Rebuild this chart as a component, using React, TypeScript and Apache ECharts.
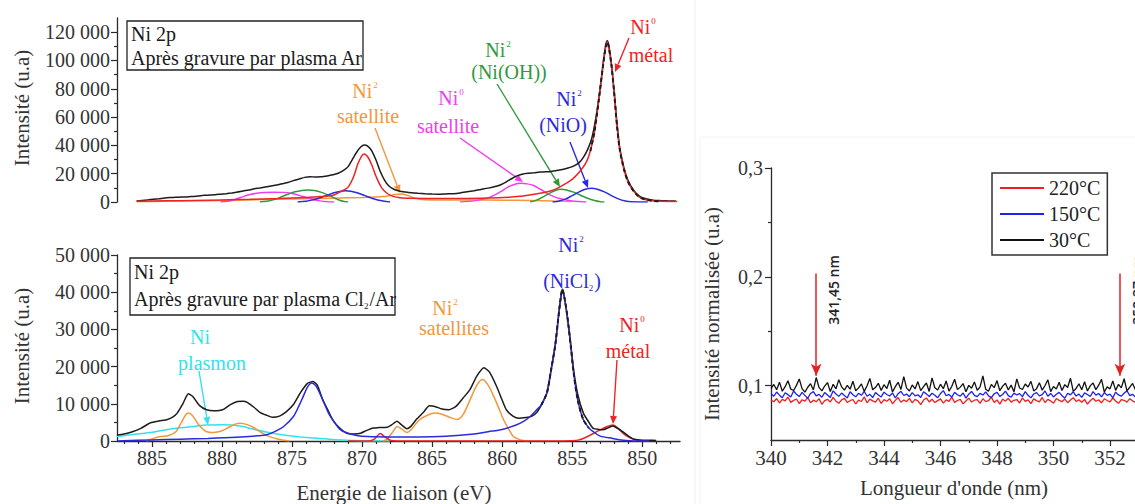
import React, { useEffect, useRef } from 'react';
import * as echarts from 'echarts';

const SERIF = "'Liberation Serif', 'Times New Roman', serif";
const SANS = "'Open Sans', 'Liberation Sans', sans-serif";

// ---------- XPS axes ----------
const E_MIN = 847.3;
const E_MAX = 887.5;
const energyTicks = [885, 880, 875, 870, 865, 860, 855, 850];
const energyMinor = [887, 886, 884, 883, 882, 881, 879, 878, 877, 876, 874, 873, 872, 871, 869, 868, 867, 866, 864, 863, 862, 861, 859, 858, 857, 856, 854, 853, 852, 851, 849, 848];
const topYTicks = [0, 20000, 40000, 60000, 80000, 100000, 120000];
const topYMinor = [10000, 30000, 50000, 70000, 90000, 110000];

// ---------- Top panel (Ar plasma) ----------
const topBlack = [[886.1,700],[885.7,1100],[885.3,1500],[884.9,1900],[884.5,2300],[884.1,2800],[883.7,3100],[883.3,3300],[882.9,3500],[882.5,3600],[882.1,3900],[881.7,4200],[881.3,4700],[880.9,4900],[880.5,5100],[880.1,5500],[879.7,5900],[879.3,6400],[878.9,7000],[878.5,7800],[878.1,8400],[877.7,9300],[877.3,9900],[876.9,10600],[876.5,11300],[876.1,12000],[875.7,12900],[875.3,13800],[874.9,15100],[874.5,16200],[874.1,17400],[873.7,17900],[873.3,17600],[872.9,17900],[872.5,18300],[872.1,19200],[871.7,20300],[871.3,22500],[871,25000],[870.7,30000],[870.4,35000],[870.1,38800],[869.85,40300],[869.6,39500],[869.3,36000],[869,29500],[868.7,21500],[868.4,15500],[868.1,11500],[867.7,8800],[867.3,7600],[866.9,7000],[866.5,6500],[866,6100],[865.5,5800],[865,5600],[864.5,5500],[864,5700],[863.5,5900],[863,6400],[862.5,7200],[862,8000],[861.5,8900],[861,9800],[860.5,10900],[860.1,12200],[859.7,14200],[859.3,16600],[858.9,18600],[858.5,19800],[858.1,20300],[857.7,20700],[857.3,21200],[856.9,21300],[856.5,21600],[856.1,22200],[855.7,23000],[855.3,24000],[854.9,25300],[854.5,27800],[854.2,31500],[853.9,37000],[853.6,45000],[853.3,60000],[853,80000],[852.8,97000],[852.6,111000],[852.5,114000],[852.4,111500],[852.2,98000],[852,78000],[851.8,55500],[851.6,38000],[851.3,24000],[851,15000],[850.6,8200],[850.2,4200],[849.8,2500],[849.3,1500],[848.8,1000],[848.2,800],[847.6,700]];
const topRed = [[886.1,500],[884,800],[882,1100],[880,1500],[878,1900],[876,2400],[874,3200],[873,3800],[872,5000],[871.4,8000],[871,10500],[870.6,18000],[870.3,27000],[870,33000],[869.85,34000],[869.6,32000],[869.3,26000],[869,18000],[868.6,10000],[868.2,6000],[867.8,4000],[867.3,3000],[866.5,2600],[865,2500],[863,2500],[861,2800],[859.5,3400],[858.5,4200],[857.5,5800],[856.5,8000],[856,10000],[855.5,12800],[855,16000],[854.5,21000],[854,28000],[853.7,36000],[853.4,50000],[853.1,72000],[852.8,96000],[852.6,110000],[852.5,113000],[852.4,110000],[852.2,97000],[852,77000],[851.8,54000],[851.6,37000],[851.3,23000],[851,14000],[850.6,7500],[850.2,3500],[849.8,1800],[849.3,900],[848.8,500],[847.5,400]];
const topFit = [[853.7,36000],[853.4,50000],[853.1,72000],[852.8,96000],[852.6,110000],[852.5,113000],[852.4,110000],[852.2,97000],[852,77000],[851.8,54000],[851.6,37000],[851.3,23000],[851,14000],[850.6,7500],[850.2,3500],[849.8,1800],[849.3,900],[848.8,500]];
const topBlueHigh = [[874.6,0],[874,500],[873.5,1500],[873,3000],[872.5,4800],[872,6500],[871.5,7600],[871.2,7900],[870.8,7600],[870.3,6300],[869.8,4500],[869.3,2700],[868.8,1200],[868.3,300],[868,0]];
const topBlueLow = [[856.4,0],[856,600],[855.5,2000],[855,4500],[854.5,7200],[854,9200],[853.6,9700],[853.2,9000],[852.7,7200],[852.2,4500],[851.7,2200],[851.2,700],[850.8,100],[850.3,0],[849.6,0]];
const topGreenHigh = [[877.3,0],[876.8,500],[876.3,1700],[875.8,3500],[875.3,5500],[874.8,7200],[874.3,8200],[873.9,8500],[873.4,8100],[872.9,6800],[872.4,4800],[871.9,2500],[871.6,1200],[871.3,400],[871,0]];
const topGreenLow = [[858,0],[857.5,1500],[857,4000],[856.5,6800],[856,8800],[855.8,9000],[855.4,8500],[854.9,7000],[854.4,4800],[853.9,2600],[853.4,1000],[853,200],[852.7,0]];
const topMagentaHigh = [[880.1,0],[879.5,700],[879,2000],[878.5,3800],[878,5300],[877.5,6200],[877,6700],[876.3,6900],[875.6,6800],[875,6000],[874.5,4700],[874,3200],[873.5,1800],[873,800],[872.5,200],[872,0]];
const topMagentaLow = [[863,0],[862,800],[861,2900],[860.1,7300],[859.6,10500],[859.2,12200],[858.7,13200],[858.2,12800],[857.8,11800],[857.3,9200],[856.8,6100],[856.3,3800],[855.9,2400],[855,700],[854,0]];
const topOrange = [[886.1,200],[884,500],[882,800],[880,1100],[878,1500],[876,1900],[874,2300],[872,2700],[870,3200],[868.5,3800],[867.8,5000],[867.2,5600],[866.7,4500],[866.2,2600],[865.5,1600],[864,1400],[862,1400],[860,1300],[858,1000],[856,600],[855,300]];

// ---------- Bottom panel (Cl2/Ar plasma) ----------
const botBlack = [[887.5,1600],[887,1900],[886.4,2500],[885.8,3400],[885.1,4900],[884.5,5400],[883.9,5800],[883.5,6500],[883.2,7500],[882.8,10000],[882.4,12700],[882.1,12000],[881.6,9500],[881.1,8400],[880.6,8100],[880.2,8200],[879.9,8500],[879.4,9800],[878.9,10600],[878.5,10700],[878.2,10400],[877.7,9000],[877.3,7700],[876.8,6900],[876.4,6400],[875.9,6700],[875.4,7900],[874.9,9800],[874.4,13000],[873.9,15500],[873.5,16000],[873.2,15000],[872.8,11000],[872.4,8000],[872.1,5700],[871.6,3500],[871.1,2100],[870.6,1900],[870.1,2100],[869.7,2800],[869.2,3500],[868.8,3600],[868.2,3700],[867.9,4300],[867.5,5300],[867.2,4400],[866.8,3300],[866.5,4000],[866.1,5900],[865.6,7800],[865.2,9500],[864.8,9300],[864.3,8600],[863.8,8400],[863.3,9300],[862.8,11500],[862.3,13800],[861.8,17500],[861.3,19700],[860.9,18500],[860.4,14700],[860,11000],[859.7,8400],[859.2,6600],[858.8,6100],[858.3,6300],[857.9,6600],[857.5,7800],[857.2,9700],[856.8,13000],[856.5,19200],[856.2,26000],[856,32700],[855.85,37500],[855.7,40800],[855.55,38500],[855.35,33600],[855.1,26000],[854.9,19200],[854.6,12500],[854.2,7500],[853.8,5000],[853.5,3400],[853.1,3100],[852.8,3000],[852.4,3600],[852.1,4000],[851.8,3500],[851.4,2500],[851,1400],[850.6,500],[850.2,300],[849.5,200],[849,150]];
const botBlue = [[887.5,0],[885,300],[883,500],[881,700],[879,1000],[877.5,1400],[876.8,1700],[876.2,2600],[875.6,3900],[874.9,6600],[874.5,9500],[874.2,12000],[873.9,14500],[873.6,15600],[873.3,14800],[872.8,11000],[872.4,7500],[872.1,5700],[871.6,3200],[871.1,2200],[870.4,1500],[869.6,1200],[868,1100],[866,1100],[864,1300],[862,1900],[861,2500],[860,3100],[859,4300],[858.5,5200],[858,6600],[857.5,8500],[857.2,9700],[856.8,13000],[856.5,19200],[856.2,26000],[856,32700],[855.85,37500],[855.7,40800],[855.55,38500],[855.35,33600],[855.1,25500],[854.9,18500],[854.6,11000],[854.2,5700],[853.8,3500],[853.5,2500],[853,1300],[852.1,700],[851.5,300],[850.4,0],[849.5,0]];
const botFit = [[857.2,9700],[856.8,13000],[856.5,19200],[856.2,26000],[856,32700],[855.85,37500],[855.7,40800],[855.55,38500],[855.35,33600],[855.1,25500],[854.9,18500],[854.6,11000],[854.2,5700],[853.8,3500]];
const botOrangeHigh = [[885.4,0],[884.9,700],[884.4,1200],[883.8,1500],[883.3,2500],[882.9,5000],[882.6,7000],[882.4,7500],[882.1,6800],[881.7,4500],[881.1,2500],[880.6,2300],[880.1,2600],[879.5,3700],[879,4600],[878.7,4800],[878.2,4400],[877.7,3500],[877.3,2500],[876.7,1300],[876.1,600],[875.6,200],[875.2,0]];
const botOrangeLow = [[868.5,0],[868.2,600],[867.8,2500],[867.5,3900],[867.2,3300],[866.8,2300],[866.4,3500],[865.9,5700],[865.3,7000],[864.8,7500],[864.3,7200],[863.7,6300],[863.2,5800],[862.8,7000],[862.3,11000],[861.8,15000],[861.4,16500],[861,15000],[860.6,12000],[860.2,8500],[859.9,5700],[859.5,3000],[859.2,1200],[858.7,300],[858.2,0]];
const botCyan = [[887.5,1200],[886.5,1700],[885.1,2300],[884,3000],[882.8,3600],[881.1,4300],[880,4400],[879.3,4300],[878.5,3900],[877.8,3200],[876.4,2100],[875.2,1400],[874.4,1100],[873,700],[872.1,400],[870.5,150],[869.6,0],[868,0]];
const botRed = [[871,0],[869.5,0],[869.1,600],[868.7,2000],[868.4,1200],[868,200],[867.5,0],[858,0],[855,100],[854.5,300],[853.9,1200],[853.4,2200],[853,3000],[852.5,3900],[852.1,4300],[851.8,3700],[851.4,2200],[851,1100],[850.6,450],[850,100],[849.5,0]];

// ---------- OES panel ----------
const oesStart = 340;
const oesStep = 0.1;
const oesXTicks = [340, 342, 344, 346, 348, 350, 352];
const oesXMinor = [341, 343, 345, 347, 349, 351];
const oesYTicks = [0.1, 0.2, 0.3];
const oesYMinor = [0.15, 0.25];
// intensities x 1e-4
const oes30 = [975,1010,962,1032,948,990,1045,968,955,1002,1061,972,940,985,1018,960,1074,983,951,996,1028,945,1012,970,1055,988,958,1003,967,1040,952,979,1016,947,998,1066,961,984,1021,956,1008,973,1049,942,990,1030,965,1083,977,950,1006,969,1037,954,991,1024,946,1071,980,959,1013,971,1043,949,993,1058,963,986,1019,944,1002,976,1034,957,989,1090,966,948,1011,981,1046,953,995,1022,960,1005,943,1062,978,964,1015,987,1039,951,972,1027,958,1001,1053,945,992,969,1031,955,1009,982,1068,947,974,1017,961,1036,950,997,1025,963,1004,1057,941,988,970,1042,956,1012,979,1063,952,985,1020,962,1001];
const oes150 = [925,903,941,912,888,934,917,896,950,921,899,938,910,884,928,945,905,919,893,936,914,890,952,923,901,931,908,887,943,916,897,929,911,948,902,920,889,937,913,895,940,918,904,933,886,926,947,909,922,898,935,906,915,891,944,924,900,930,912,889,927,954,907,919,894,939,916,903,932,885,921,946,910,898,929,913,942,905,890,925,937,901,918,949,908,893,931,914,926,899,944,911,887,923,935,906,917,951,902,928,896,920,938,909,884,930,915,943,904,922,892,933,918,900,945,912,927,897,936,910,921,888,940,914,903,929,953,908,919,895,932];
const oes220 = [868,852,881,840,873,859,895,846,864,877,835,870,858,889,843,866,851,880,828,862,874,849,891,857,838,869,883,845,861,872,831,866,854,897,842,876,860,848,884,836,871,856,879,833,864,890,847,868,853,882,841,873,859,826,867,886,850,875,844,862,878,839,869,855,893,846,863,874,832,858,885,849,866,871,837,879,853,861,894,844,868,830,876,857,883,848,865,872,840,887,855,869,834,878,862,850,891,845,873,859,838,881,864,852,876,843,867,889,854,870,847,873,829,861,884,856,868,842,879,863,851,886,858,837,872,865,848,880,860,845,874];
const oesArrows = [
  { wl: 341.6, top: 0.203, tip: 0.109, text: '341,45 nm' },
  { wl: 352.35, top: 0.203, tip: 0.109, text: '352,37 nm' },
];

const C = {
  black: '#1c1c1c',
  red: '#ee2424',
  blue: '#2a2ade',
  green: '#2f9a3c',
  magenta: '#f23cf0',
  orange: '#f3973a',
  cyan: '#33e2ea',
  axis: '#2a2a2a',
};

function toPairs(vals: number[]) {
  return vals.map((v, i) => [+(oesStart + i * oesStep).toFixed(2), v / 10000]);
}

function kFmt(v: number) {
  return v === 0 ? '0' : `${Math.round(v / 1000)} 000`;
}

function arrow(x1: number, y1: number, x2: number, y2: number, color: string) {
  const dx = x2 - x1, dy = y2 - y1;
  const L = Math.hypot(dx, dy);
  const ux = dx / L, uy = dy / L;
  const hl = 8, hw = 3.5;
  const bx = x2 - ux * hl, by = y2 - uy * hl;
  return [
    { type: 'line', silent: true, shape: { x1, y1, x2: bx, y2: by }, style: { stroke: color, lineWidth: 1.4 } },
    { type: 'polygon', silent: true, shape: { points: [[x2, y2], [bx - uy * hw, by + ux * hw], [bx + uy * hw, by - ux * hw]] }, style: { fill: color } },
  ];
}

function txt(x: number, y: number, text: string, color: string, size = 20, align = 'center', extra: any = {}) {
  return {
    type: 'text', silent: true, x, y, ...extra,
    style: { text, fill: color, font: `${size}px ${SERIF}`, align, textAlign: align, verticalAlign: 'middle', textVerticalAlign: 'middle' },
  };
}

function rich(x: number, y: number, text: string, color: string, align = 'center') {
  return {
    type: 'text', silent: true, x, y,
    style: {
      text, fill: color, align, textAlign: align, verticalAlign: 'middle', textVerticalAlign: 'middle',
      font: `20px ${SERIF}`,
      rich: {
        a: { fontSize: 20, fontFamily: SERIF, fill: color, lineHeight: 22 },
        s: { fontSize: 9, fontFamily: SERIF, fill: color, lineHeight: 9, verticalAlign: 'top', padding: [0, 0, 0, 1] },
        b: { fontSize: 9, fontFamily: SERIF, fill: color, lineHeight: 9, verticalAlign: 'bottom', padding: [0, 1, 0, 0] },
      },
    },
  };
}

function line(name: string, data: any[], color: string, xi: number, yi: number, extra: any = {}) {
  return {
    type: 'line', name, data, xAxisIndex: xi, yAxisIndex: yi, symbol: 'none', showSymbol: false,
    smooth: 0.3, silent: true, color,
    lineStyle: { color, width: 1.5 }, itemStyle: { color },
    ...extra,
  };
}

const axisLine = { show: true, onZero: false, lineStyle: { color: C.axis, width: 1.3 } };
const tickStyle = { color: C.axis, width: 1.2 };
const labelStyle = { color: '#333', fontFamily: SERIF, fontSize: 20 };

export default function App() {
  const ref = useRef<HTMLDivElement>(null);
  useEffect(() => {
    if (!ref.current) return;
    const chart = echarts.init(ref.current, undefined, { renderer: 'svg' });
    const graphic: any[] = [
      // faint frame lines of right figure
      { type: 'line', silent: true, shape: { x1: 695, y1: 0, x2: 695, y2: 504 }, style: { stroke: '#efefef', lineWidth: 1 } },
      { type: 'line', silent: true, shape: { x1: 700, y1: 137, x2: 1135, y2: 137 }, style: { stroke: '#f3f3f3', lineWidth: 1 } },
      { type: 'line', silent: true, shape: { x1: 700, y1: 137, x2: 700, y2: 504 }, style: { stroke: '#f3f3f3', lineWidth: 1 } },
      // boxes
      { type: 'rect', silent: true, shape: { x: 127, y: 21, width: 236, height: 49 }, style: { fill: '#fff', stroke: '#222', lineWidth: 1.3 } },
      txt(131, 34, 'Ni 2p', '#1a1a1a', 20, 'left'),
      txt(131, 58, 'Après gravure par plasma Ar', '#1a1a1a', 20, 'left'),
      { type: 'rect', silent: true, shape: { x: 130, y: 258, width: 265, height: 57 }, style: { fill: '#fff', stroke: '#222', lineWidth: 1.3 } },
      txt(134, 272, 'Ni 2p', '#1a1a1a', 20, 'left'),
      rich(134, 299, '{a|Après gravure par plasma Cl}{b|2}{a|/Ar}', '#1a1a1a', 'left'),
      // axis titles
      txt(22, 108, 'Intensité (u.a)', '#333', 21, 'center', { rotation: Math.PI / 2 }),
      txt(22, 346, 'Intensité (u.a)', '#333', 21, 'center', { rotation: Math.PI / 2 }),
      txt(394, 493, 'Energie de liaison (eV)', '#333', 21),
      txt(712, 314, 'Intensité normalisée (u.a)', '#333', 21, 'center', { rotation: Math.PI / 2 }),
      txt(954, 488, "Longueur d'onde (nm)", '#333', 21),
      // top annotations
      rich(365, 91, '{a|Ni}{s|2}', C.orange),
      txt(368, 116, 'satellite', C.orange),
      ...arrow(375, 128, 400, 193, C.orange),
      rich(451, 98, '{a|Ni}{s|0}', C.magenta),
      txt(448, 126, 'satellite', C.magenta),
      ...arrow(460, 138, 523, 182, C.magenta),
      rich(498, 50, '{a|Ni}{s|2}', C.green),
      txt(509, 72, '(Ni(OH))', C.green),
      ...arrow(497, 84, 560, 187, C.green),
      rich(569, 99, '{a|Ni}{s|2}', C.blue),
      txt(563, 125, '(NiO)', C.blue),
      ...arrow(570, 142, 588, 188, C.blue),
      rich(643, 27, '{a|Ni}{s|0}', C.red),
      txt(651, 55, 'métal', C.red),
      ...arrow(629, 38, 615, 72, C.red),
      // bottom annotations
      txt(200, 337, 'Ni', C.cyan),
      txt(212, 363, 'plasmon', C.cyan),
      ...arrow(199, 371, 208, 425, C.cyan),
      rich(445, 308, '{a|Ni}{s|2}', C.orange),
      txt(454, 328, 'satellites', C.orange),
      rich(571, 245, '{a|Ni}{s|2}', C.blue),
      rich(572, 281, '{a|(NiCl}{b|2}{a|)}', C.blue),
      rich(632, 325, '{a|Ni}{s|0}', C.red),
      txt(628, 351, 'métal', C.red),
      ...arrow(617, 360, 613, 424, C.red),
      // OES arrow labels
      ...oesArrows.map((a, i) => ({
        type: 'text', silent: true, x: i === 0 ? 833 : 1137, y: 290, rotation: Math.PI / 2,
        style: { text: a.text, fill: '#222', font: `600 14px ${SANS}`, align: 'center', textAlign: 'center', verticalAlign: 'middle', textVerticalAlign: 'middle' },
      })),
    ];

    const option: any = {
      animation: false,
      backgroundColor: '#ffffff',
      textStyle: { fontFamily: SERIF },
      grid: [
        { left: 117, top: 18, width: 563, height: 184, outerBoundsMode: 'none', containLabel: false },
        { left: 117, top: 255, width: 563, height: 186, outerBoundsMode: 'none', containLabel: false },
        { left: 771, top: 168, width: 367.25, height: 272, outerBoundsMode: 'none', containLabel: false },
      ],
      legend: {
        data: ['220°C', '150°C', '30°C'],
        orient: 'vertical', left: 992, top: 173,
        icon: 'rect', itemWidth: 44, itemHeight: 2, itemGap: 6,
        padding: [5, 7, 5, 8],
        borderColor: '#333', borderWidth: 1.5, backgroundColor: '#fff',
        textStyle: { fontFamily: SERIF, fontSize: 20, color: '#222' },
        selectedMode: false,
      },
      xAxis: [
        { gridIndex: 0, type: 'value', min: E_MIN, max: E_MAX, inverse: true, show: false },
        {
          gridIndex: 1, type: 'value', min: E_MIN, max: E_MAX, inverse: true, position: 'bottom',
          axisLine, splitLine: { show: false },
          axisTick: { show: true, length: 6, customValues: energyTicks, lineStyle: tickStyle },
          axisLabel: { ...labelStyle, margin: 7, customValues: energyTicks, formatter: (v: number) => String(v) },
        },
        {
          gridIndex: 1, type: 'value', min: E_MIN, max: E_MAX, inverse: true, position: 'bottom',
          axisLine: { show: false, onZero: false }, splitLine: { show: false },
          axisTick: { show: true, length: 3, customValues: energyMinor, lineStyle: tickStyle },
          axisLabel: { show: false },
        },
        {
          gridIndex: 2, type: 'value', min: 340, max: 353, position: 'bottom',
          axisLine, splitLine: { show: false },
          axisTick: { show: true, length: 6, customValues: oesXTicks, lineStyle: tickStyle },
          axisLabel: { ...labelStyle, fontSize: 21, margin: 7, customValues: oesXTicks, formatter: (v: number) => String(v) },
        },
        {
          gridIndex: 2, type: 'value', min: 340, max: 353, position: 'bottom',
          axisLine: { show: false, onZero: false }, splitLine: { show: false },
          axisTick: { show: true, length: 3, customValues: oesXMinor, lineStyle: tickStyle },
          axisLabel: { show: false },
        },
      ],
      yAxis: [
        {
          gridIndex: 0, type: 'value', min: 0, max: 130000, position: 'left',
          axisLine, splitLine: { show: false },
          axisTick: { show: true, length: 6, customValues: topYTicks, lineStyle: tickStyle },
          axisLabel: { ...labelStyle, margin: 7, customValues: topYTicks, formatter: kFmt },
        },
        {
          gridIndex: 0, type: 'value', min: 0, max: 130000, position: 'left',
          axisLine: { show: false, onZero: false }, splitLine: { show: false },
          axisTick: { show: true, length: 3, customValues: topYMinor, lineStyle: tickStyle },
          axisLabel: { show: false },
        },
        {
          gridIndex: 1, type: 'value', min: 0, max: 50000, interval: 10000, position: 'left',
          axisLine, splitLine: { show: false },
          axisTick: { show: true, length: 6, lineStyle: tickStyle },
          minorTick: { show: true, splitNumber: 2, length: 3, lineStyle: tickStyle },
          axisLabel: { ...labelStyle, margin: 7, formatter: kFmt },
        },
        {
          gridIndex: 2, type: 'value', min: 0.05, max: 0.3, position: 'left',
          axisLine, splitLine: { show: false },
          axisTick: { show: true, length: 6, customValues: oesYTicks, lineStyle: tickStyle },
          axisLabel: { ...labelStyle, margin: 8, customValues: oesYTicks, formatter: (v: number) => v.toFixed(1).replace('.', ',') },
        },
        {
          gridIndex: 2, type: 'value', min: 0.05, max: 0.3, position: 'left',
          axisLine: { show: false, onZero: false }, splitLine: { show: false },
          axisTick: { show: true, length: 3, customValues: oesYMinor, lineStyle: tickStyle },
          axisLabel: { show: false },
        },
      ],
      series: [
        // top
        line('topOrange', topOrange, C.orange, 0, 0),
        line('topMagentaHigh', topMagentaHigh, C.magenta, 0, 0),
        line('topMagentaLow', topMagentaLow, C.magenta, 0, 0),
        line('topGreenHigh', topGreenHigh, C.green, 0, 0),
        line('topGreenLow', topGreenLow, C.green, 0, 0),
        line('topBlueHigh', topBlueHigh, C.blue, 0, 0),
        line('topBlueLow', topBlueLow, C.blue, 0, 0),
        line('topBlack', topBlack, C.black, 0, 0, { smooth: 0.2 }),
        line('topRed', topRed, C.red, 0, 0),
        line('topFit', topFit, C.black, 0, 0, { lineStyle: { color: C.black, width: 2, type: [4, 3] } }),
        // bottom
        line('botCyan', botCyan, C.cyan, 1, 2),
        line('botOrangeHigh', botOrangeHigh, C.orange, 1, 2),
        line('botOrangeLow', botOrangeLow, C.orange, 1, 2),
        line('botRed', botRed, C.red, 1, 2),
        line('botBlack', botBlack, C.black, 1, 2, { smooth: 0.2 }),
        line('botBlue', botBlue, C.blue, 1, 2),
        line('botFit', botFit, C.black, 1, 2, { lineStyle: { color: C.black, width: 2, type: [4, 3] } }),
        // OES
        line('220°C', toPairs(oes220), '#f01e1e', 3, 3, { smooth: false, lineStyle: { color: '#f01e1e', width: 1.3 } }),
        line('150°C', toPairs(oes150), '#1f1ff0', 3, 3, { smooth: false, lineStyle: { color: '#1f1ff0', width: 1.3 } }),
        line('30°C', toPairs(oes30), '#111111', 3, 3, {
          smooth: false, lineStyle: { color: '#111111', width: 1.3 },
          markLine: {
            silent: true, symbol: ['none', 'arrow'], symbolSize: [8, 12],
            lineStyle: { color: '#e52020', width: 1.5, type: 'solid' },
            label: { show: false },
            data: oesArrows.map((a) => [{ coord: [a.wl, a.top] }, { coord: [a.wl, a.tip] }]),
          },
        }),
      ],
      graphic,
    };
    chart.setOption(option);
    return () => chart.dispose();
  }, []);
  return <div ref={ref} style={{ position: 'absolute', left: 0, top: 0, width: 1135, height: 504, background: '#fff' }} />;
}
